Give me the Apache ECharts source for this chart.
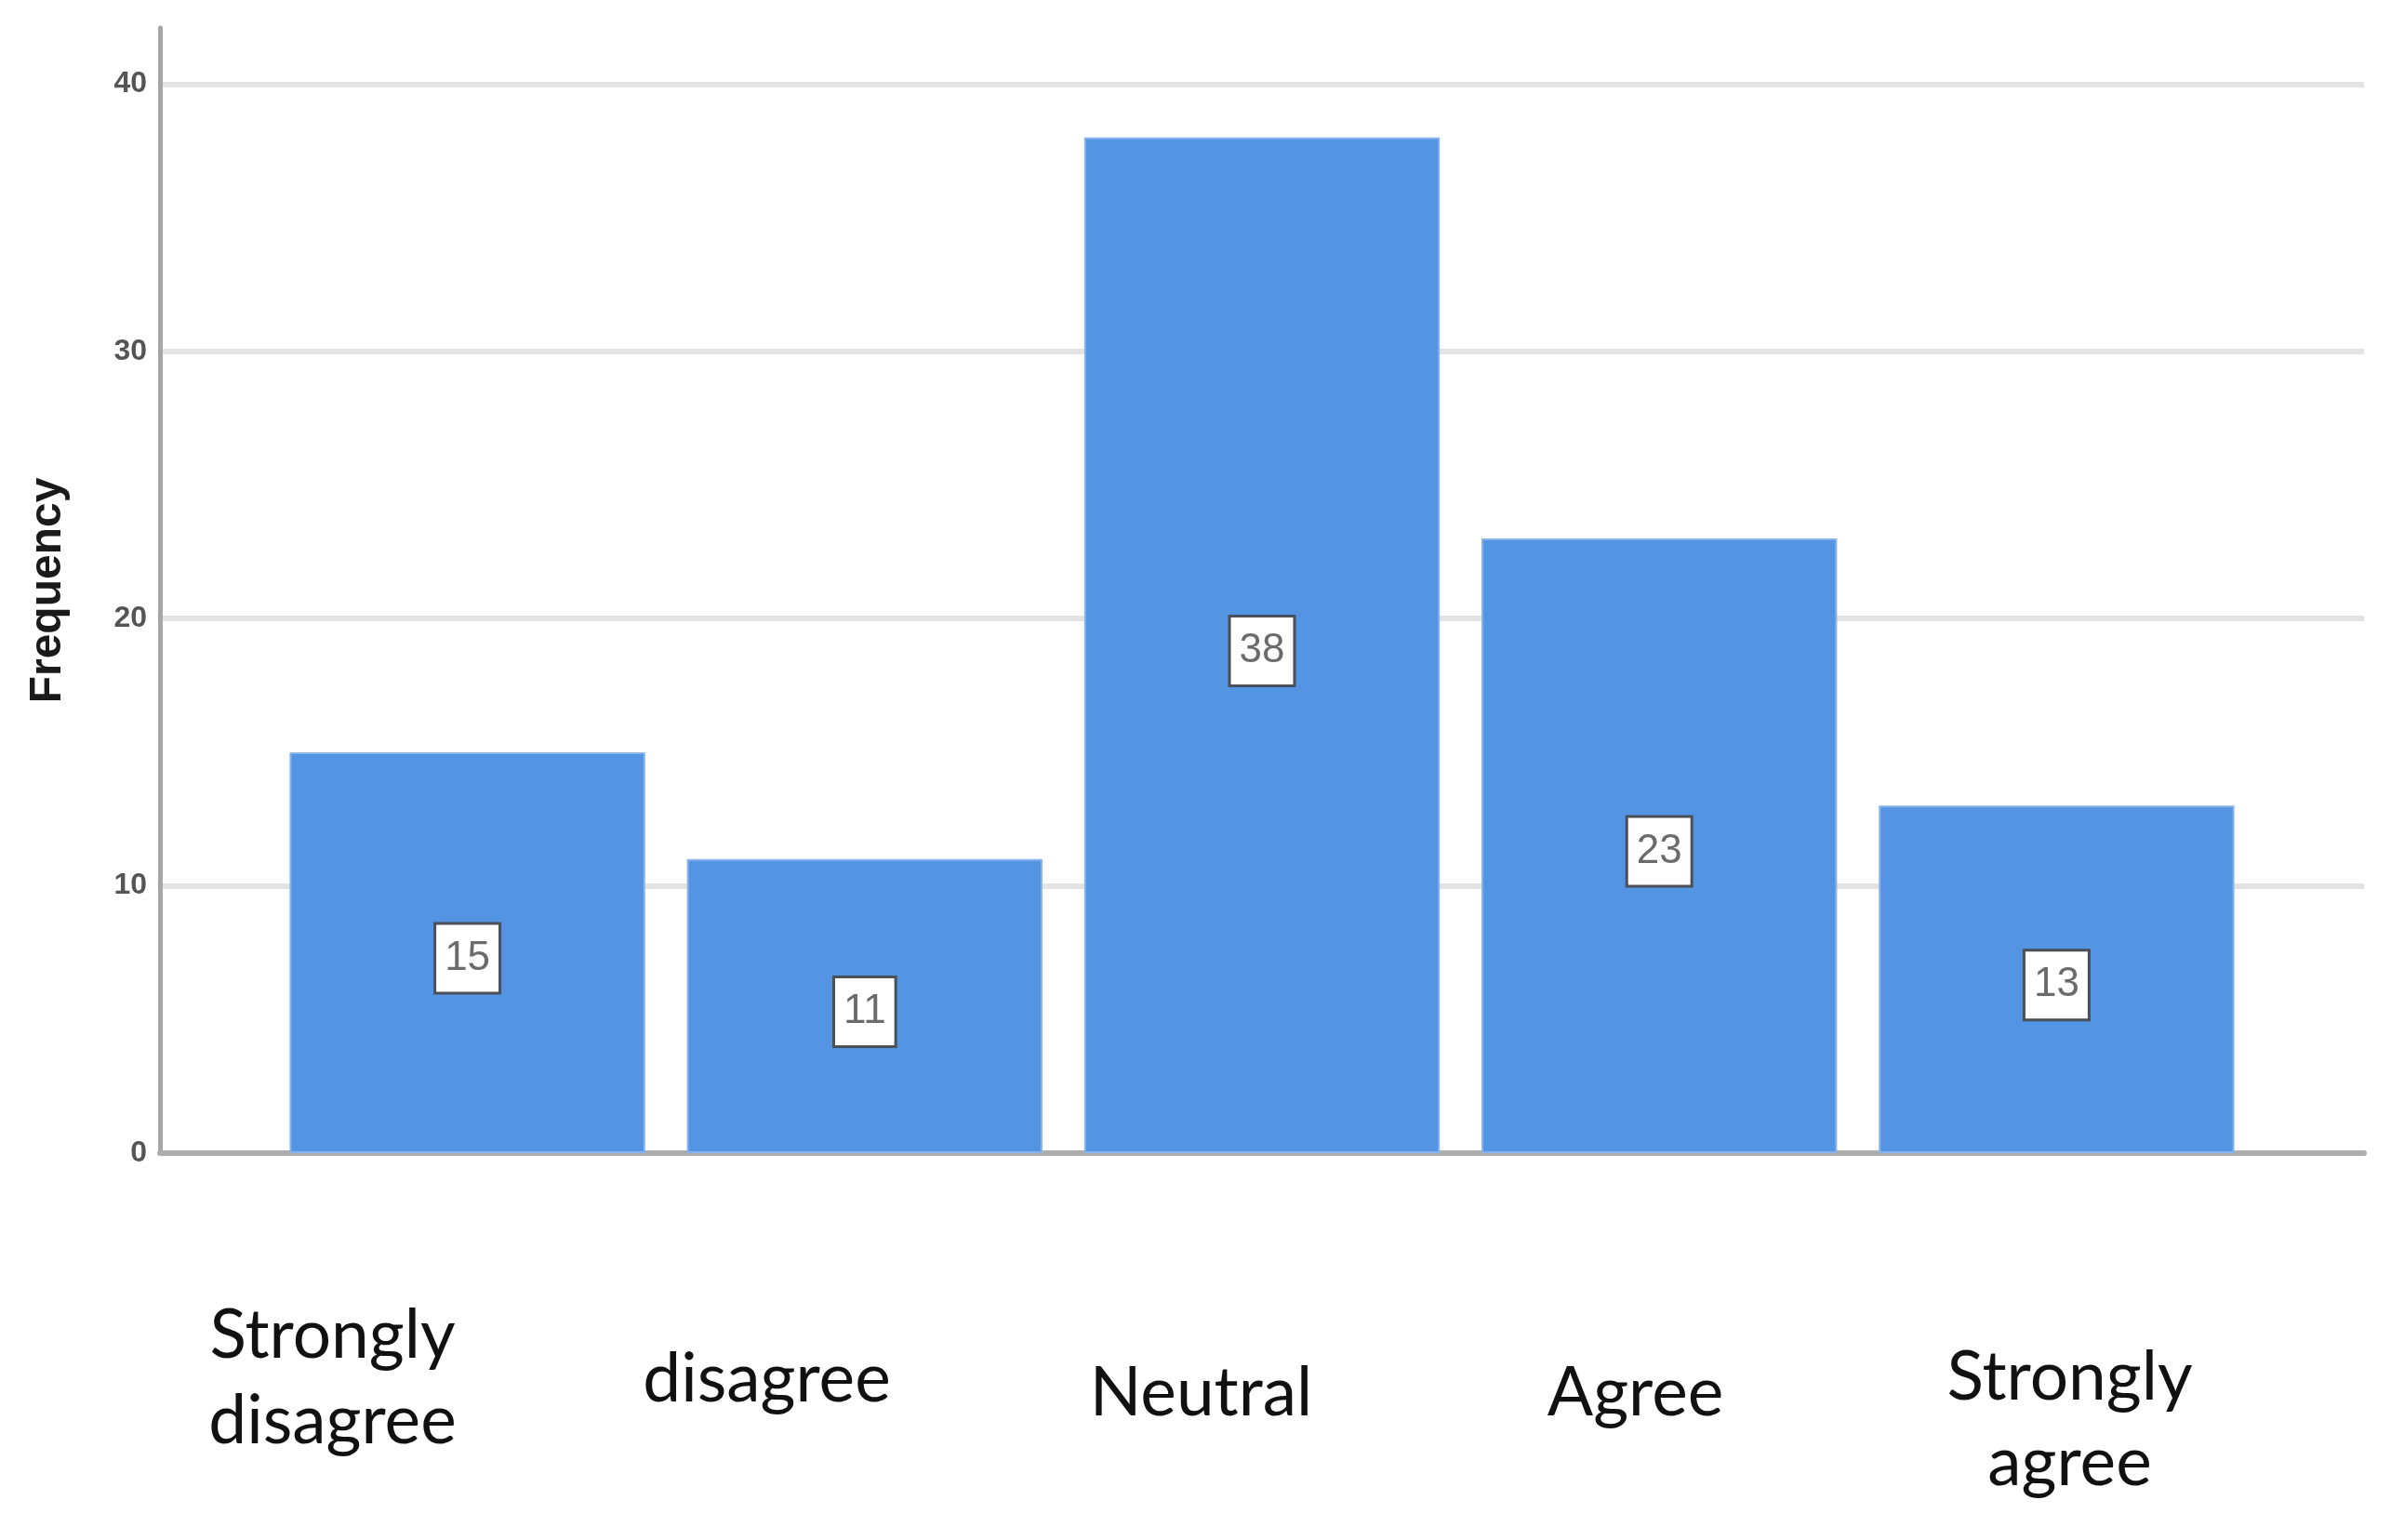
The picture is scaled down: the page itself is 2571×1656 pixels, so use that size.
<!DOCTYPE html>
<html>
<head>
<meta charset="utf-8">
<script src="https://cdn.jsdelivr.net/npm/echarts@6.0.0/dist/echarts.min.js"></script>
<style>
html,body{margin:0;padding:0;background:#fff;}
#chart{width:2571px;height:1656px;}
</style>
</head>
<body>
<div id="chart"></div>
<script>
// ---- data ----
const categories = ['Strongly disagree', 'disagree', 'Neutral', 'Agree', 'Strongly agree'];
const frequencies = [15, 11, 38, 23, 13];
const categoryLabels = ['Strongly\ndisagree', 'disagree', 'Neutral', 'Agree', 'Strongly\nagree'];
const yTickValues = [0, 10, 20, 30, 40];
const yAxisTitle = 'Frequency';

// ---- layout / style ----
const Y_MAX = 42.1;
const GRID_TOP = 30, GRID_BOTTOM = 416;
const labelPadTop = [0, 47, 62, 62, 45];

const chart = echarts.init(document.getElementById('chart'), null, {renderer: 'canvas'});

const option = {
  backgroundColor: '#ffffff',
  animation: false,
  grid: [
    {left: 172, right: 29, top: GRID_TOP, bottom: GRID_BOTTOM},
    {left: 289, right: 146, top: GRID_TOP, bottom: GRID_BOTTOM},
    {left: 124, right: 112, top: GRID_TOP, bottom: GRID_BOTTOM}
  ],
  xAxis: [
    {
      gridIndex: 0, type: 'value', min: 0, max: 1,
      axisLine: {show: true, lineStyle: {color: '#adadad', width: 6}},
      axisTick: {show: false}, axisLabel: {show: false}, splitLine: {show: false}
    },
    {
      gridIndex: 1, type: 'category', data: categories, show: false
    },
    {
      gridIndex: 2, type: 'category',
      data: categoryLabels.map((c, i) => ({value: c, textStyle: {padding: [labelPadTop[i], 0, 0, 0]}})),
      axisLine: {show: false}, axisTick: {show: false}, splitLine: {show: false},
      axisLabel: {
        interval: 0, margin: 150, fontFamily: 'Lato', fontSize: 73, lineHeight: 92,
        color: '#111111', align: 'center', verticalAlign: 'top'
      }
    }
  ],
  yAxis: [
    {
      gridIndex: 0, type: 'value', min: yTickValues[0], max: Y_MAX, interval: yTickValues[1] - yTickValues[0],
      name: yAxisTitle, nameLocation: 'middle', nameGap: 96, nameRotate: 90,
      nameTextStyle: {fontFamily: 'Liberation Sans', fontWeight: 'bold', fontSize: 48, color: '#1a1a1a'},
      axisLine: {show: true, lineStyle: {color: '#a6a6a6', width: 5}},
      axisTick: {show: false},
      axisLabel: {
        show: true, margin: 14, fontFamily: 'Liberation Sans', fontWeight: 'bold', fontSize: 32, color: '#555555',
        showMaxLabel: false,
        formatter: v => (yTickValues.indexOf(v) >= 0 ? String(v) : '')
      },
      splitLine: {show: true, showMaxLine: false, lineStyle: {color: '#e3e3e3', width: 6}}
    },
    {gridIndex: 1, type: 'value', min: 0, max: Y_MAX, show: false},
    {gridIndex: 2, type: 'value', min: 0, max: 1, show: false}
  ],
  series: [
    {
      type: 'bar', xAxisIndex: 1, yAxisIndex: 1,
      data: frequencies,
      barCategoryGap: '10.5%',
      itemStyle: {color: '#5495e3', borderColor: '#86b3ec', borderWidth: 2},
      label: {
        show: true, position: 'inside', offset: [0, 6],
        fontFamily: 'Liberation Sans', fontSize: 44, lineHeight: 46, color: '#6b6b6b',
        backgroundColor: '#ffffff', borderColor: '#4a4f58', borderWidth: 3,
        padding: [13, 9, 13, 9]
      }
    }
  ]
};
chart.setOption(option);
</script>
</body>
</html>
